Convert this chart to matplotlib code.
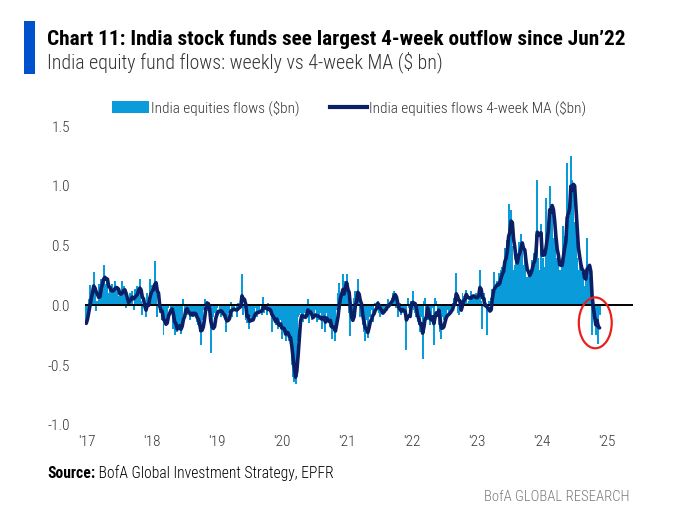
import matplotlib
matplotlib.use('Agg')
import matplotlib.pyplot as plt
import matplotlib.dates as mdates
from matplotlib import font_manager
from matplotlib.patches import Patch, Rectangle, Ellipse
from matplotlib.lines import Line2D
import numpy as np
import pandas as pd

# ---------------- data (weekly India equity fund flows, $bn) ----------------
start_date = '2016-12-28'
flows_2017 = [-0.15, -0.08, 0.05, 0.17, 0.08, 0.12, 0.28, 0.10, -0.05, 0.04,
              0.18, 0.12, 0.22, 0.20, 0.34, 0.18, 0.16, 0.20, 0.10, 0.14,
              0.06, 0.18, 0.12, 0.20, 0.10, 0.16, 0.08, 0.04, 0.10, 0.20,
              0.16, 0.06, -0.02, 0.04, 0.02, 0.10, 0.04, 0.12, -0.04, 0.14,
              0.10, 0.16, 0.10, 0.22, 0.04, -0.08, 0.04, -0.02, -0.10, 0.10,
              0.02, 0.22]
flows_2018 = [0.06, 0.17, 0.10, 0.37, 0.12, -0.10, 0.02, -0.06, -0.04, -0.12,
              -0.25, -0.10, -0.16, -0.08, -0.02, 0.00, -0.06, -0.04, -0.20, -0.25,
              -0.12, -0.22, -0.18, -0.16, -0.24, -0.12, 0.05, -0.06, -0.02, -0.08,
              -0.04, -0.12, -0.08, -0.02, -0.10, -0.06, -0.10, -0.14, -0.16, -0.22,
              -0.33, -0.12, -0.04, 0.05, 0.02, 0.04, -0.05, -0.12, -0.40, -0.15,
              -0.10, -0.06]
flows_2019 = [-0.12, -0.02, 0.00, -0.06, -0.10, -0.04, -0.08, -0.10, -0.22, -0.12,
              -0.06, -0.04, 0.03, -0.10, -0.02, -0.04, 0.01, -0.10, 0.02, 0.00,
              0.04, 0.26, -0.08, -0.02, -0.12, -0.15, -0.06, -0.20, -0.10, -0.14,
              -0.04, -0.08, -0.02, -0.10, -0.04, -0.06, 0.00, -0.08, 0.07, -0.06,
              -0.02, -0.08, 0.02, -0.04, -0.06, -0.22, -0.04, -0.12, -0.16, -0.14,
              -0.20, -0.16]
flows_2020 = [-0.12, -0.28, -0.20, -0.18, -0.30, -0.22, -0.22, -0.30, -0.34, -0.50,
              -0.60, -0.64, -0.66, -0.30, -0.10, -0.08, -0.06, -0.10, -0.14, -0.06,
              -0.10, -0.04, 0.05, -0.15, -0.08, -0.12, -0.06, -0.10, -0.04, -0.14,
              -0.08, -0.12, -0.06, -0.20, -0.04, -0.10, -0.22, -0.06, -0.12, -0.14,
              -0.18, -0.28, -0.12, -0.16, -0.30, -0.04, 0.10, 0.19, -0.02, 0.10,
              0.26, 0.04]
flows_2021 = [0.20, 0.26, 0.04, -0.06, -0.26, -0.10, -0.08, 0.06, 0.12, 0.04,
              0.22, 0.00, -0.10, -0.08, -0.16, -0.22, -0.30, -0.12, -0.27, -0.06,
              -0.10, -0.04, -0.14, 0.00, 0.02, 0.01, 0.04, -0.06, -0.10, -0.04,
              -0.06, -0.02, -0.04, 0.00, 0.05, -0.02, 0.02, 0.06, 0.10, 0.12,
              0.08, -0.02, -0.10, -0.04, 0.02, -0.08, -0.04, -0.06, -0.02, -0.37,
              0.06, -0.02]
flows_2022 = [-0.04, 0.04, 0.12, -0.04, -0.06, -0.10, -0.14, -0.16, -0.22, -0.10,
              -0.45, 0.04, 0.06, -0.06, -0.12, -0.10, -0.16, -0.10, -0.02, -0.33,
              0.06, 0.04, -0.10, -0.16, -0.22, -0.28, -0.10, -0.12, -0.06, -0.12,
              -0.04, -0.08, -0.02, -0.06, 0.02, 0.06, 0.04, 0.27, -0.06, -0.08,
              0.02, -0.04, 0.10, 0.08, 0.06, 0.13, 0.02, 0.04, 0.06, 0.12,
              0.08, 0.06]
flows_2023 = [0.02, 0.10, 0.08, 0.12, 0.30, 0.04, -0.20, 0.10, 0.06, 0.02,
              -0.25, 0.04, 0.00, 0.06, 0.14, 0.28, 0.10, 0.12, 0.20, 0.27,
              0.16, 0.30, 0.32, 0.36, 0.48, 0.42, 0.55, 0.85, 0.62, 0.80,
              0.50, 0.30, 0.34, 0.42, 0.36, 0.53, 0.44, 0.60, 0.52, 0.34,
              0.40, 0.22, 0.24, 0.26, 0.28, 0.30, 0.38, 0.44, 0.36, 0.60,
              1.05, 0.40]
flows_2024 = [0.30, 0.68, 0.30, 0.40, 0.32, 0.90, 0.60, 0.70, 1.00, 0.82,
              0.82, 0.56, 0.62, 0.30, 0.40, 0.36, 0.30, 0.28, 0.40, 0.66,
              0.58, 0.50, 1.19, 0.80, 0.75, 1.25, 1.05, 1.00, 0.70, 0.55,
              0.40, 0.30, 0.40, 0.28, 0.22, 0.26, 0.16, 0.24, 0.56, 0.30,
              0.24, 0.04, -0.25, -0.10, -0.05, -0.25, -0.10, -0.32, -0.08]

year_ticks = ['2017-01-01', '2018-01-01', '2019-01-01', '2020-01-01', '2021-01-01',
              '2022-01-01', '2023-01-01', '2024-01-01', '2025-01-01']
year_labels = ["'17", "'18", "'19", "'20", "'21", "'22", "'23", "'24", "'25"]
y_ticks = [-1.0, -0.5, 0.0, 0.5, 1.0, 1.5]
y_labels = ['-1.0', '-0.5', '0.0', '0.5', '1.0', '1.5']

series_labels = ['India equities flows ($bn)', 'India equities flows 4-week MA ($bn)']
title = 'Chart 11: India stock funds see largest 4-week outflow since Jun\u201922'
subtitle = 'India equity fund flows: weekly vs 4-week MA ($ bn)'
source_bold = 'Source:'
source_rest = ' BofA Global Investment Strategy, EPFR'
brand = 'BofA GLOBAL RESEARCH'

flows = np.array(flows_2017 + flows_2018 + flows_2019 + flows_2020 +
                 flows_2021 + flows_2022 + flows_2023 + flows_2024)
dates = pd.date_range(start_date, periods=len(flows), freq='7D')
ma4 = pd.Series(flows).rolling(4, min_periods=1).mean().values

# ---------------- style ----------------
names = {f.name for f in font_manager.fontManager.ttflist}
prefs = ['Roboto Condensed', 'Open Sans Condensed', 'Fira Sans Condensed',
         'IBM Plex Sans Condensed', 'Barlow Semi Condensed', 'Asap Condensed',
         'Archivo Narrow', 'Liberation Sans Narrow', 'Liberation Sans']
NARROW = next((p for p in prefs if p in names), 'DejaVu Sans')
FAM = [NARROW, 'DejaVu Sans']

BAR_C = '#0A9BDB'
LINE_C = '#0B1F66'
TXT_C = '#333333'

W, H = 675, 522
fig = plt.figure(figsize=(W / 100, H / 100), dpi=100)
fig.patch.set_facecolor('white')


def fx(px):
    return px / W


def fy(py):
    return 1 - py / H


ax = fig.add_axes([fx(85), fy(425), fx(633) - fx(85), fy(126) - fy(425)])
ax.bar(dates, flows, width=11, color=BAR_C, linewidth=0, align='center',
       antialiased=False, zorder=2)
ax.axhline(0, color='black', lw=1.4, zorder=3)
ax.plot(dates, ma4, color=LINE_C, lw=2.6, solid_joinstyle='round',
        solid_capstyle='round', zorder=4)

ax.set_ylim(-1.0, 1.5)
ax.set_xlim(pd.Timestamp('2016-12-21'), pd.Timestamp('2025-05-27'))
for s in ax.spines.values():
    s.set_visible(False)
ax.set_xticks(pd.to_datetime(year_ticks))
ax.set_xticklabels(year_labels)
ax.set_yticks(y_ticks)
ax.set_yticklabels(y_labels)
ax.tick_params(axis='both', length=0, labelcolor=TXT_C, labelsize=11)
ax.tick_params(axis='y', pad=11)
ax.tick_params(axis='x', pad=7)
for lab in ax.get_xticklabels() + ax.get_yticklabels():
    lab.set_family(FAM)
    lab.set_fontweight('light')

# red ellipse annotation
ex = mdates.date2num(pd.Timestamp('2024-10-27'))
ell = Ellipse((ex, -0.146), width=185, height=0.425, fill=False,
              edgecolor='#E8201E', lw=1.6, zorder=5, clip_on=False)
ax.add_patch(ell)

# legend
handles = [Patch(facecolor=BAR_C, edgecolor='none'),
           Line2D([0], [0], color=LINE_C, lw=3)]
leg = fig.legend(handles, series_labels, loc='center', bbox_to_anchor=(fx(349), fy(108)),
                 ncol=2, frameon=False, handlelength=2.4, handleheight=0.75,
                 handletextpad=0.15, columnspacing=2.0,
                 prop={'family': FAM, 'size': 11, 'weight': 'light'})
for t in leg.get_texts():
    t.set_color(TXT_C)

# header
fig.add_artist(Rectangle((fx(24), fy(74)), fx(35) - fx(24), fy(21) - fy(74),
                         transform=fig.transFigure, color='#0052CC', lw=0))
t_title = fig.text(fx(47), fy(45), title, fontsize=14, fontweight='bold',
                   family=FAM, va='baseline', ha='left', color='black')
t_sub = fig.text(fx(47), fy(68), subtitle, fontsize=13, family=FAM, fontweight='light',
                 va='baseline', ha='left', color=TXT_C)
t_src1 = fig.text(fx(47), fy(478), source_bold, fontsize=10.5, fontweight='bold',
                  family=FAM, va='baseline', ha='left', color='black')
t_brand = fig.text(fx(630), fy(501), brand, fontsize=10.5, family=FAM, fontweight='light',
                   va='baseline', ha='right', color='#7a7a7a')

renderer = fig.canvas.get_renderer()


def fit(t, target):
    w = t.get_window_extent(renderer).width
    t.set_fontsize(t.get_fontsize() * target / w)


fit(t_title, 580)
fit(t_sub, 393)
fit(t_brand, 146)
fit(t_src1, 48)
w1 = t_src1.get_window_extent(renderer).width
t_src2 = fig.text(fx(47 + w1), fy(478), source_rest, fontsize=t_src1.get_fontsize(),
                  family=FAM, fontweight='light', va='baseline', ha='left', color='black')

fig.savefig('out.png', dpi=100, facecolor='white')
